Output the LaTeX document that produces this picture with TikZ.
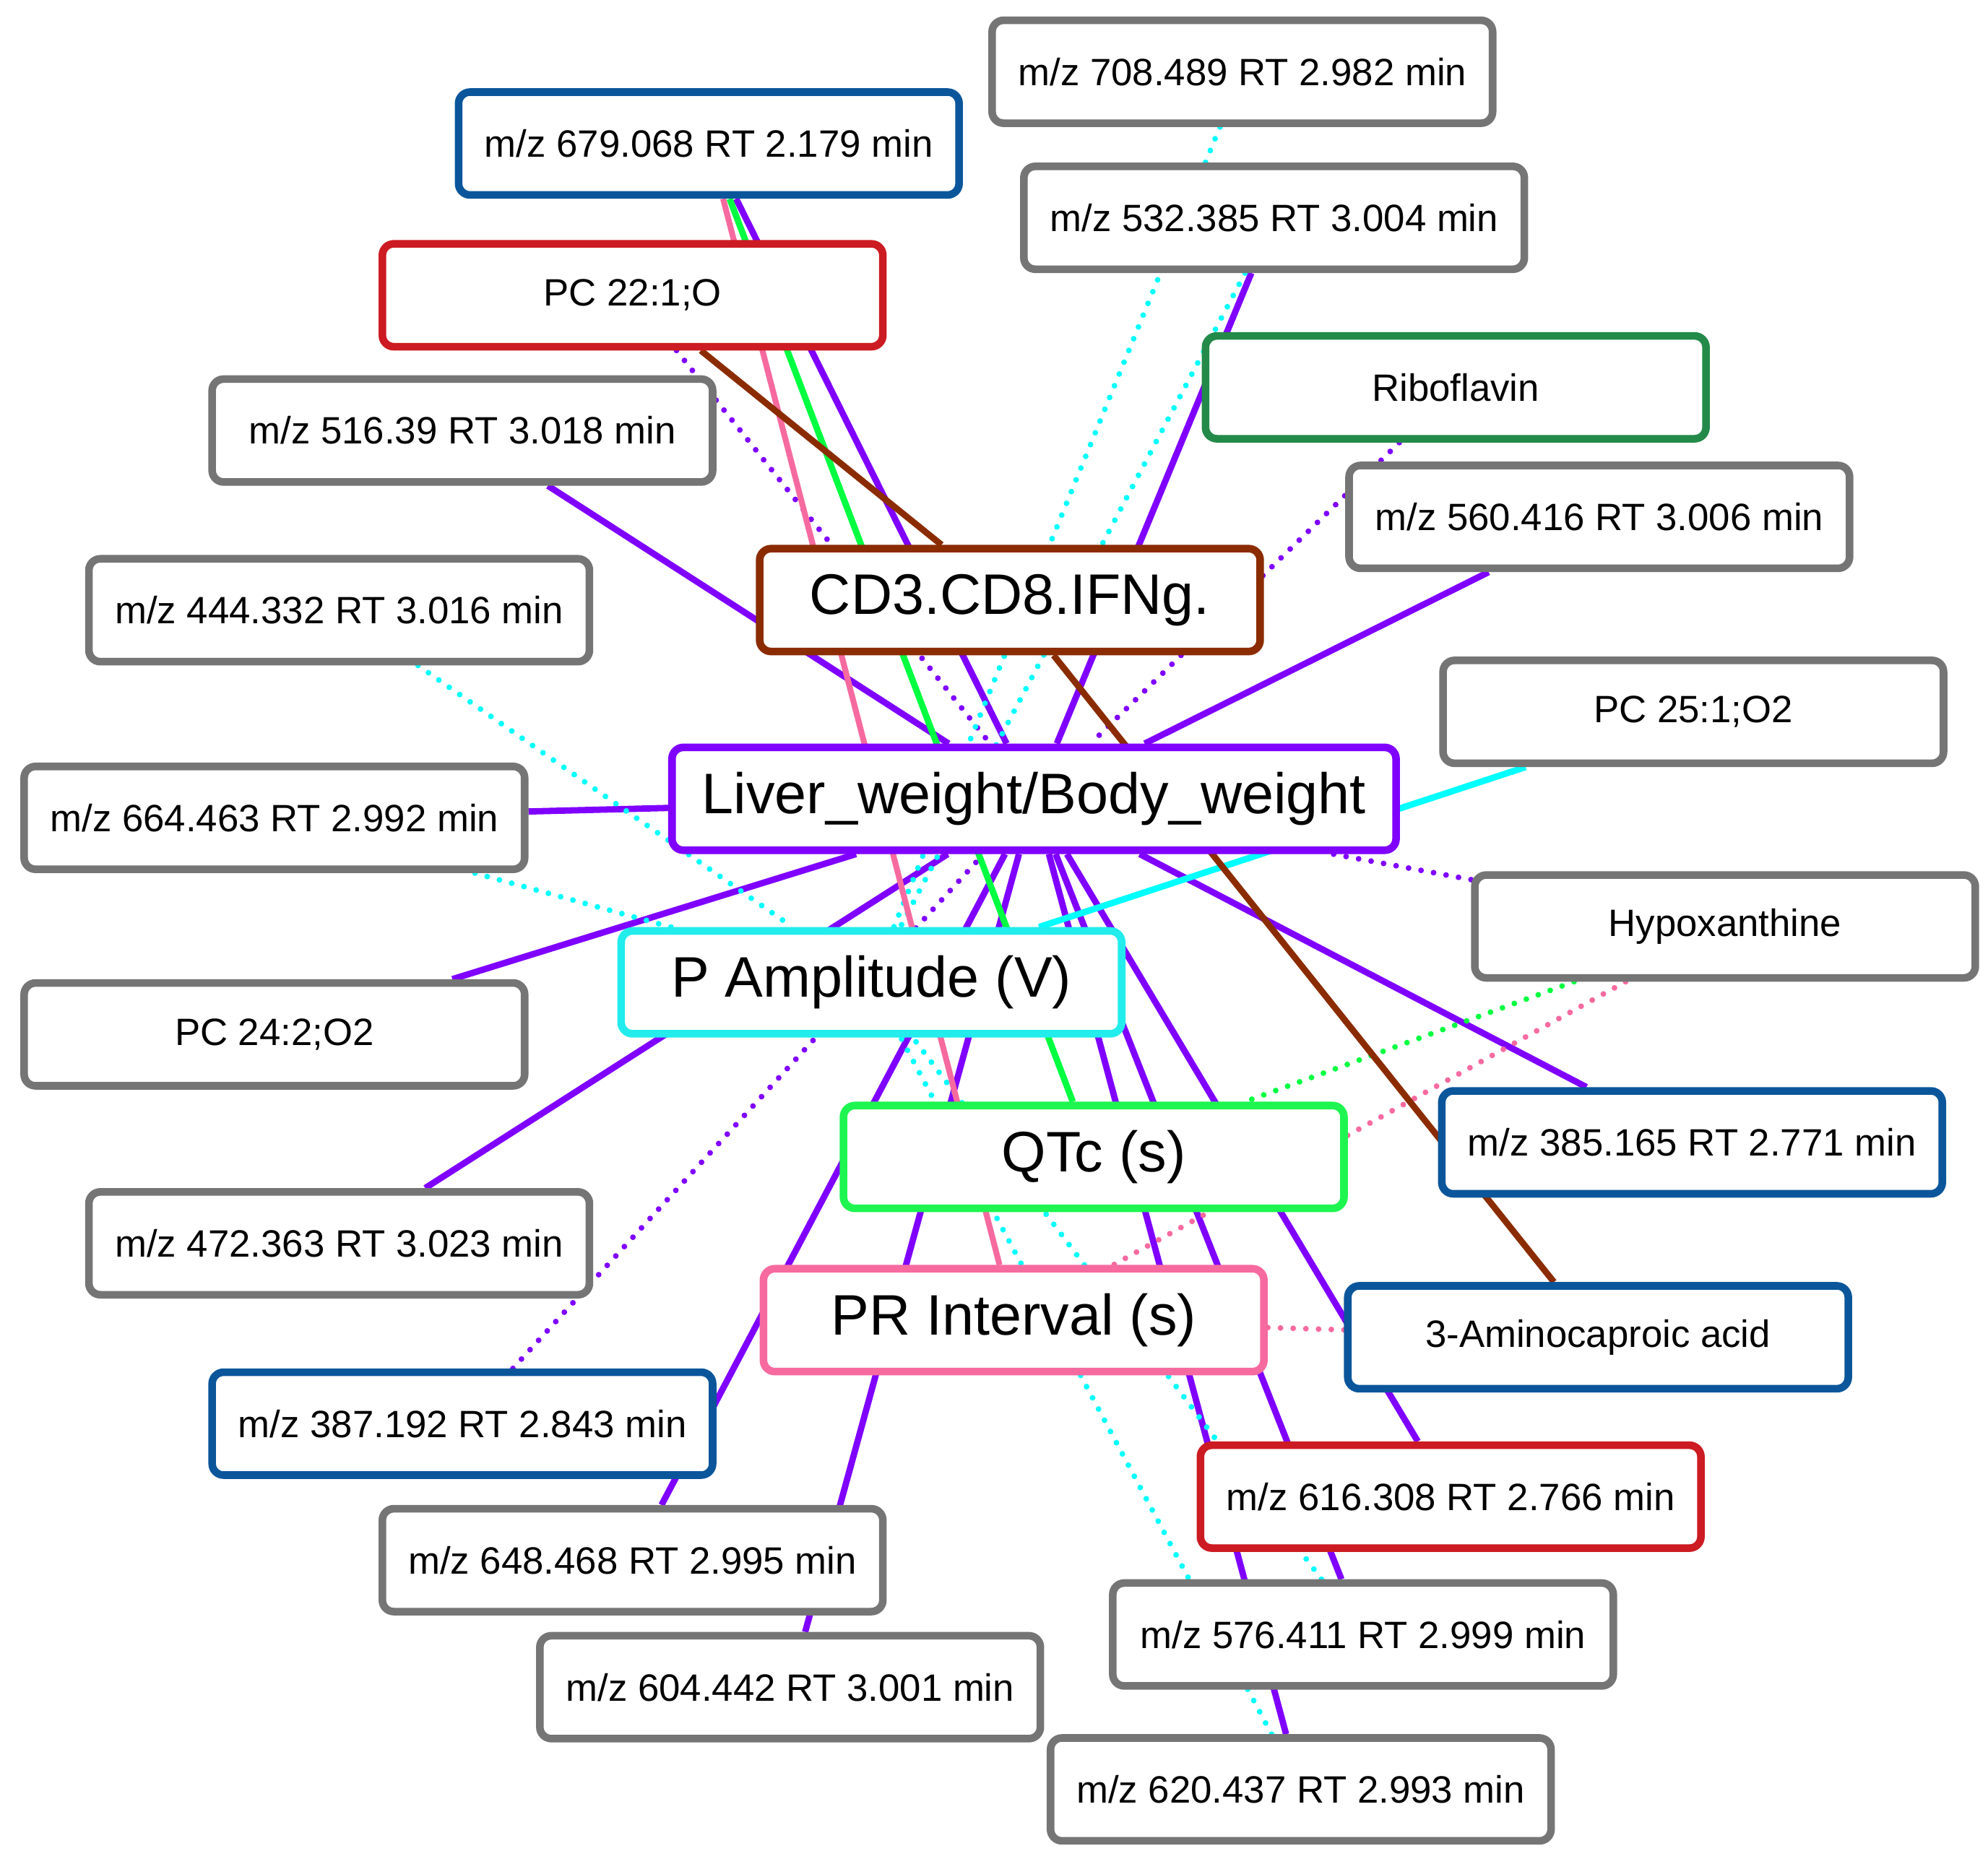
\documentclass[tikz,border=0pt]{standalone}
\usepackage{fontspec}
\setmainfont{Liberation Sans}
\usetikzlibrary{backgrounds}
\definecolor{cpurple}{RGB}{127,0,255}
\definecolor{ccyan}{RGB}{0,255,255}
\definecolor{cpamp}{RGB}{34,236,236}
\definecolor{cgreen}{RGB}{0,255,64}
\definecolor{cqtc}{RGB}{30,245,80}
\definecolor{cpink}{RGB}{246,106,160}
\definecolor{cbrown}{RGB}{139,44,0}
\definecolor{cblue}{RGB}{11,86,155}
\definecolor{cred}{RGB}{204,27,34}
\definecolor{cgray}{RGB}{117,117,117}
\definecolor{cdgreen}{RGB}{35,138,74}
\tikzset{
  nbox/.style={draw, line width=6pt, rounded corners=9pt, fill=white,
    minimum width=394pt, minimum height=81pt, inner sep=0pt,
    font=\fontsize{30}{36}\selectfont, text=black},
  hubbox/.style={nbox, font=\fontsize{45}{54}\selectfont},
  solidedge/.style={line width=5pt},
  dotedge/.style={line width=4.5pt, line cap=round, dash pattern=on 0pt off 10pt},
}
\begin{document}
\begin{tikzpicture}[x=1pt, y=-1pt]
\useasboundingbox (0,0) rectangle (1565,1457);
% metabolite nodes
\node[nbox, draw=cgray]   (n708)  at (978,56.5)   {m/z 708.489 RT 2.982 min};
\node[nbox, draw=cblue]   (n679)  at (558,113)    {m/z 679.068 RT 2.179 min};
\node[nbox, draw=cgray]   (n532)  at (1003,171.5) {m/z 532.385 RT 3.004 min};
\node[nbox, draw=cred]    (pc22)  at (498,232.5)  {PC 22:1;O};
\node[nbox, draw=cdgreen] (ribo)  at (1146,305)   {Riboflavin};
\node[nbox, draw=cgray]   (n516)  at (364,339)    {m/z 516.39 RT 3.018 min};
\node[nbox, draw=cgray]   (n560)  at (1259,407)   {m/z 560.416 RT 3.006 min};
\node[nbox, draw=cgray]   (n444)  at (267,480.5)  {m/z 444.332 RT 3.016 min};
\node[nbox, draw=cgray]   (pc25)  at (1333,560.5) {PC 25:1;O2};
\node[nbox, draw=cgray]   (n664)  at (216,644)    {m/z 664.463 RT 2.992 min};
\node[nbox, draw=cgray]   (hypo)  at (1358,729.5) {Hypoxanthine};
\node[nbox, draw=cgray]   (pc24)  at (216,814.5)  {PC 24:2;O2};
\node[nbox, draw=cblue]   (n385)  at (1332,899.5) {m/z 385.165 RT 2.771 min};
\node[nbox, draw=cgray]   (n472)  at (267,979)    {m/z 472.363 RT 3.023 min};
\node[nbox, draw=cblue]   (amino) at (1258,1053)  {3-Aminocaproic acid};
\node[nbox, draw=cblue]   (n387)  at (364,1121)   {m/z 387.192 RT 2.843 min};
\node[nbox, draw=cred]    (n616)  at (1142,1178.5){m/z 616.308 RT 2.766 min};
\node[nbox, draw=cgray]   (n648)  at (498,1228.5) {m/z 648.468 RT 2.995 min};
\node[nbox, draw=cgray]   (n576)  at (1073,1287)  {m/z 576.411 RT 2.999 min};
\node[nbox, draw=cgray]   (n604)  at (622,1328.5) {m/z 604.442 RT 3.001 min};
\node[nbox, draw=cgray]   (n620)  at (1024,1409)  {m/z 620.437 RT 2.993 min};
% hub nodes
\node[hubbox, draw=cbrown]  (cd3)   at (795,472.5)  {CD3.CD8.IFNg.};
\node[hubbox, draw=cpurple, minimum width=570pt] (liver) at (814,629) {Liver\_weight/Body\_weight};
\node[hubbox, draw=cpamp]   (pamp)  at (686,773.5)  {P Amplitude (V)};
\node[hubbox, draw=cqtc]    (qtc)   at (861,911)    {QTc (s)};
\node[hubbox, draw=cpink]   (pr)    at (798,1039.5) {PR Interval (s)};
\begin{pgfonlayer}{background}
% Liver edges
\foreach \m in {n679,n532,n560,n516,n664,pc24,n472,n648,n604,n620,n576,n616,n385}
  \draw[solidedge, cpurple] (\m) -- (liver);
\foreach \m in {pc22,ribo,n387,hypo}
  \draw[dotedge, cpurple] (\m) -- (liver);
% P Amplitude edges
\foreach \m in {n708,n532,n444,n664,n576,n620}
  \draw[dotedge, ccyan] (\m) -- (pamp);
\draw[solidedge, ccyan] (pc25) -- (pamp);
% QTc edges
\draw[solidedge, cgreen] (n679) -- (qtc);
\draw[dotedge, cgreen] (hypo) -- (qtc);
% PR edges
\draw[solidedge, cpink, line width=4.6pt] (n679) -- (pr);
\draw[dotedge, cpink] (hypo) -- (pr);
\draw[dotedge, cpink] (amino) -- (pr);
% CD3 edges
\draw[solidedge, cbrown] (pc22) -- (cd3);
\draw[solidedge, cbrown] (amino) -- (cd3);
\end{pgfonlayer}
\end{tikzpicture}
\end{document}
